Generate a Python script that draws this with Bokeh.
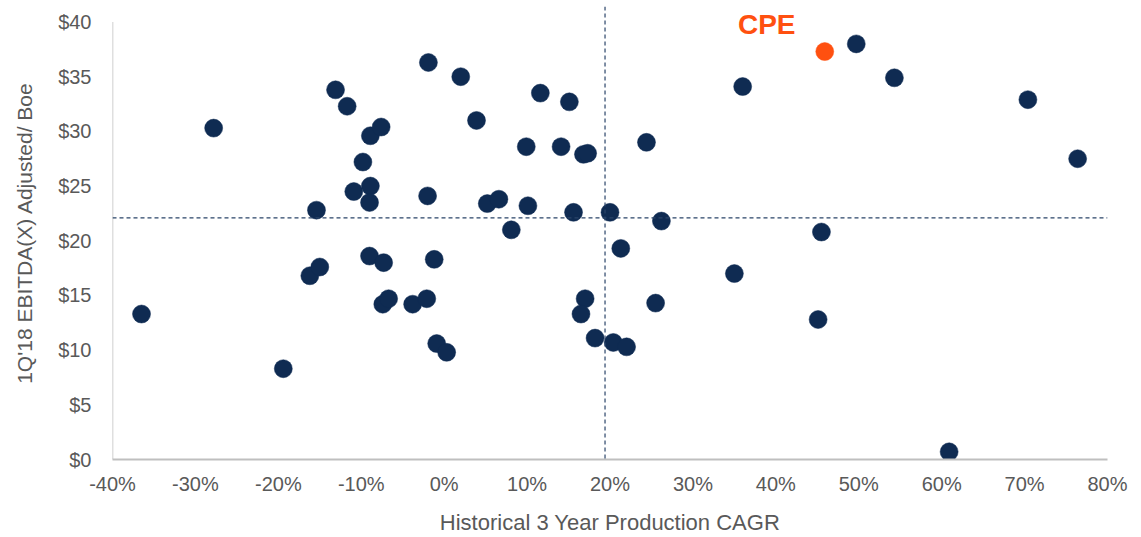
from bokeh.plotting import figure
from bokeh.models import Span, FixedTicker, PrintfTickFormatter, ColumnDataSource, Range1d
from bokeh.core.properties import value
from bokeh.embed import file_html
from bokeh.resources import INLINE

# Historical 3 Year Production CAGR (%) and 1Q'18 EBITDA(X) Adjusted per Boe ($)
peer_cagr = [-36.5, -27.8, -19.4, -16.2, -15.0, -15.4, -13.1, -11.7, -10.9, -9.8,
             -8.9, -7.6, -8.9, -9.0, -9.0, -7.3, -7.4, -6.7, -3.8, -2.1,
             -1.9, -2.0, -1.2, -0.9, 0.3, 2.0, 3.9, 11.6, 15.1, 9.9,
             14.1, 16.8, 17.3, 5.2, 6.6, 10.1, 15.6, 20.0, 26.2, 8.1,
             21.3, 36.0, 24.4, 35.0, 25.5, 17.0, 16.5, 18.2, 20.4, 22.0,
             49.7, 54.3, 70.4, 76.4, 45.5, 45.1, 60.9]
peer_ebitda = [13.3, 30.3, 8.3, 16.8, 17.6, 22.8, 33.8, 32.3, 24.5, 27.2,
               29.6, 30.4, 25.0, 23.5, 18.6, 18.0, 14.2, 14.7, 14.2, 14.7,
               36.3, 24.1, 18.3, 10.6, 9.8, 35.0, 31.0, 33.5, 32.7, 28.6,
               28.6, 27.9, 28.0, 23.4, 23.8, 23.2, 22.6, 22.6, 21.8, 21.0,
               19.3, 34.1, 29.0, 17.0, 14.3, 14.7, 13.3, 11.1, 10.7, 10.3,
               38.0, 34.9, 32.9, 27.5, 20.8, 12.8, 0.7]

cpe_label = ["CPE"]
cpe_cagr = [45.9]
cpe_ebitda = [37.3]

avg_cagr = 19.4
avg_ebitda = 22.1

x_ticks = [-40, -30, -20, -10, 0, 10, 20, 30, 40, 50, 60, 70, 80]
y_ticks = [0, 5, 10, 15, 20, 25, 30, 35, 40]

x_title = "Historical 3 Year Production CAGR"
y_title = "1Q'18 EBITDA(X) Adjusted/ Boe"

NAVY = "#0F2B52"
ORANGE = "#FF5010"
GRAY = "#595959"
FONT = "Liberation Sans"

p = figure(width=1141, height=537, output_backend="svg", toolbar_location=None,
           x_range=Range1d(x_ticks[0], x_ticks[-1]), y_range=Range1d(y_ticks[0], 41.42),
           min_border_left=112, min_border_right=34, min_border_top=6, min_border_bottom=78)
p.outline_line_color = None
p.xgrid.visible = False
p.ygrid.visible = False

p.add_layout(Span(location=avg_cagr, dimension="height", line_color="#2A4468",
                  line_dash="4 3", line_width=1.2))
p.add_layout(Span(location=avg_ebitda, dimension="width", line_color="#2A4468",
                  line_dash="4 3", line_width=1.2))

# left spine only up to the top tick
p.segment(x0=[x_ticks[0]], y0=[y_ticks[0]], x1=[x_ticks[0]], y1=[y_ticks[-1]],
          line_color="#BFBFBF", line_width=1.5)

src = ColumnDataSource(dict(x=peer_cagr, y=peer_ebitda))
p.scatter("x", "y", source=src, size=18, fill_color=NAVY, line_color=NAVY, line_width=0.5)

csrc = ColumnDataSource(dict(x=cpe_cagr, y=cpe_ebitda, t=cpe_label))
p.scatter("x", "y", source=csrc, size=18, fill_color=ORANGE, line_color=ORANGE, line_width=0.5)
p.text("x", "y", text="t", source=csrc, x_offset=-58, y_offset=-27,
       text_align="center", text_baseline="middle", text_color=ORANGE,
       text_font=value(FONT), text_font_style="bold", text_font_size="28px")

for ax in (p.xaxis[0], p.yaxis[0]):
    ax.major_tick_line_color = None
    ax.minor_tick_line_color = None
    ax.major_tick_in = 0
    ax.major_tick_out = 0
    ax.major_label_text_font = FONT
    ax.major_label_text_font_size = "20px"
    ax.major_label_text_color = GRAY
    ax.axis_label_text_font = FONT
    ax.axis_label_text_font_style = "normal"
    ax.axis_label_text_color = GRAY

p.xaxis.ticker = FixedTicker(ticks=x_ticks)
p.xaxis.formatter = PrintfTickFormatter(format="%d%%")
p.xaxis.axis_line_color = "#BFBFBF"
p.xaxis.axis_line_width = 2
p.xaxis.major_label_standoff = 13
p.xaxis.axis_label = x_title
p.xaxis.axis_label_text_font_size = "22px"
p.xaxis.axis_label_standoff = 12

p.yaxis.ticker = FixedTicker(ticks=y_ticks)
p.yaxis.formatter = PrintfTickFormatter(format="$%d")
p.yaxis.axis_line_color = None
p.yaxis.major_label_standoff = 21
p.yaxis.axis_label = y_title
p.yaxis.axis_label_text_font_size = "21px"
p.yaxis.axis_label_standoff = 19

open("out.html", "w").write(file_html(p, INLINE))
